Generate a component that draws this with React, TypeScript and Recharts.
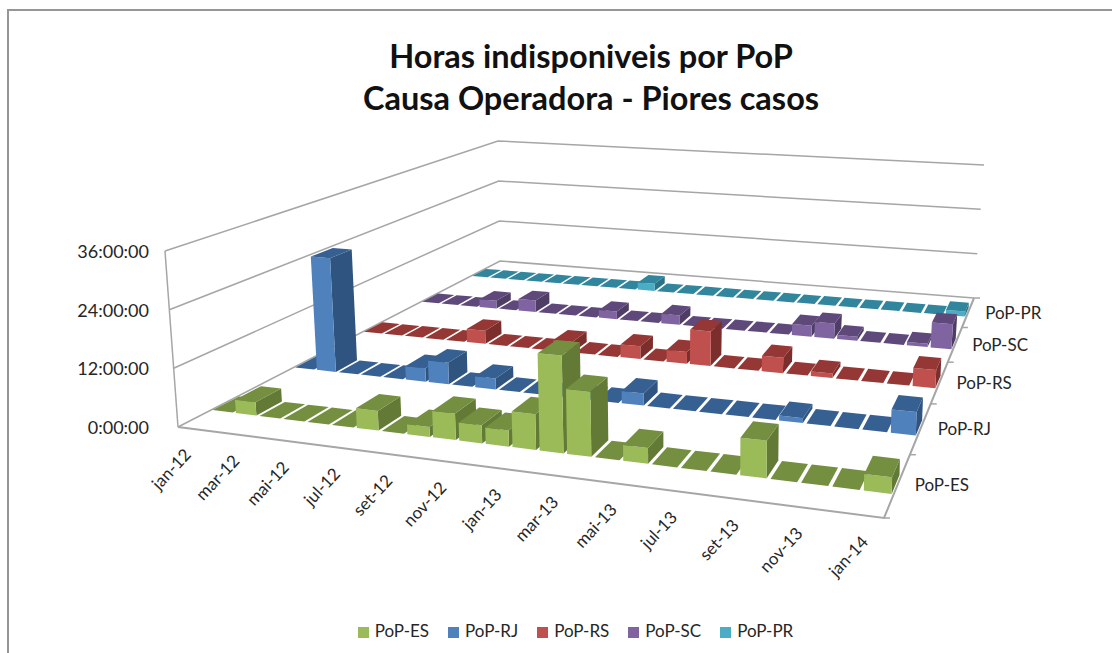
import React from 'react';
import { BarChart, Bar, XAxis, YAxis, Legend } from 'recharts';

const months = [
  'jan-12', 'fev-12', 'mar-12', 'abr-12', 'mai-12', 'jun-12', 'jul-12', 'ago-12', 'set-12', 'out-12', 'nov-12', 'dez-12',
  'jan-13', 'fev-13', 'mar-13', 'abr-13', 'mai-13', 'jun-13', 'jul-13', 'ago-13', 'set-13', 'out-13', 'nov-13', 'dez-13',
  'jan-14',
];

// hours per month
const popES = [0, 2.8, 0, 0, 0, 0, 4, 0, 2, 5.3, 3.6, 3.2, 7, 19, 12.6, 0, 3, 0, 0, 0, 7, 0, 0, 0, 3];
const popRJ = [0, 26, 0, 0, 0, 3, 4.8, 0, 2.4, 0, 0, 0, 0, 0, 2.6, 0, 0, 0, 0, 0, 1, 0, 0, 0, 4.7];
const popRS = [0, 0, 0, 0, 0, 3.2, 0, 0, 0, 2.5, 0, 0, 3, 0, 2.7, 8, 0, 0, 3.5, 0, 1, 0, 0, 0, 4];
const popSC = [0, 0, 0, 2, 0, 3, 0, 0, 0, 2, 0, 0, 2.4, 0, 0, 0, 0, 0, 2.7, 3.7, 1, 0, 0, 0.8, 6];
const popPR = [0, 0, 0, 0, 0, 0, 0, 0, 0, 2, 0, 0, 0, 0, 0, 0, 0, 0, 0, 0, 0, 0, 0, 0, 1.3];

const seriesNames = ['PoP-ES', 'PoP-RJ', 'PoP-RS', 'PoP-SC', 'PoP-PR'];
const yTicks = [0, 12, 24, 36];
const Y_MAX = 36;

const palette = [
  { front: '#9bbb59', top: '#748f3f', side: '#627a35' },
  { front: '#4f81bd', top: '#376092', side: '#2f5480' },
  { front: '#c0504d', top: '#953735', side: '#7c2e2c' },
  { front: '#8064a2', top: '#5f497a', side: '#4f3d66' },
  { front: '#4bacc6', top: '#31859c', side: '#2a7286' },
];

const data = months.map((month, i) => ({
  month,
  es: popES[i],
  rj: popRJ[i],
  rs: popRS[i],
  sc: popSC[i],
  pr: popPR[i],
}));

// floor corners on screen
const FL = [178, 427];
const FR = [884, 518];
const BR = [974, 298];
const BL = [500, 261];

const dx1 = FR[0] - BR[0];
const dy1 = FR[1] - BR[1];
const dx2 = BL[0] - BR[0];
const dy2 = BL[1] - BR[1];
const sx = FL[0] - FR[0] + BR[0] - BL[0];
const sy = FL[1] - FR[1] + BR[1] - BL[1];
const det = dx1 * dy2 - dy1 * dx2;
const g = (sx * dy2 - sy * dx2) / det;
const h = (dx1 * sy - dy1 * sx) / det;

function floorPoint(u: number, v: number) {
  const w = 1 + g * u + h * v;
  return [
    ((FR[0] - FL[0] + g * FR[0]) * u + (BL[0] - FL[0] + h * BL[0]) * v + FL[0]) / w,
    ((FR[1] - FL[1] + g * FR[1]) * u + (BL[1] - FL[1] + h * BL[1]) * v + FL[1]) / w,
  ];
}

// wall height on screen is linear in the floor position
function plane(a: number, b: number, c: number) {
  const d = (FL[0] - BR[0]) * (BL[1] - BR[1]) - (BL[0] - BR[0]) * (FL[1] - BR[1]);
  const ka = ((a - c) * (BL[1] - BR[1]) - (b - c) * (FL[1] - BR[1])) / d;
  const kb = ((FL[0] - BR[0]) * (b - c) - (BL[0] - BR[0]) * (a - c)) / d;
  return (x: number, y: number) => ka * (x - BR[0]) + kb * (y - BR[1]) + c;
}
const offX = plane(-13, -2, 10);
const offY = plane(-176, -120, -133);

function project(u: number, v: number, frac: number) {
  const [x, y] = floorPoint(u, v);
  return [x + frac * offX(x, y), y + frac * offY(x, y)];
}

const poly = (pts: number[][]) => pts.map((p) => p.map((n) => n.toFixed(1)).join(',')).join(' ');
const line = (pts: number[][]) => 'M' + pts.map((p) => p.map((n) => n.toFixed(1)).join(',')).join('L');

const BAR_W = 0.87;
const BAR_D = 0.3;
const textColor = '#262626';
const fontFamily = 'Lato, sans-serif';

function Bar3D(props: any) {
  const { index, row, height, background } = props;
  const frac = background && background.height ? Math.max(height, 0) / background.height : 0;
  const n = months.length;
  const u0 = (index + 0.5 - BAR_W / 2) / n;
  const u1 = (index + 0.5 + BAR_W / 2) / n;
  const v0 = (row + 0.5 - BAR_D / 2) / seriesNames.length;
  const v1 = (row + 0.5 + BAR_D / 2) / seriesNames.length;
  const c = palette[row];
  const a = project(u0, v0, 0);
  const b = project(u1, v0, 0);
  const d = project(u1, v1, 0);
  const at = project(u0, v0, frac);
  const bt = project(u1, v0, frac);
  const dt = project(u1, v1, frac);
  const et = project(u0, v1, frac);
  return (
    <g>
      <polygon points={poly([b, d, dt, bt])} fill={c.side} />
      <polygon points={poly([a, b, bt, at])} fill={c.front} />
      <polygon points={poly([at, bt, dt, et])} fill={c.top} />
    </g>
  );
}

function Frame() {
  const stroke = '#a6a6a6';
  return (
    <g>
      <path d="M8,653L8,10L1112,10" fill="none" stroke="#969696" strokeWidth={2} />
      <text x={591} y={68} textAnchor="middle" fontFamily={fontFamily} fontWeight={700} fontSize={32.5} fill="#111">
        Horas indisponiveis por PoP
      </text>
      <text x={591} y={110} textAnchor="middle" fontFamily={fontFamily} fontWeight={700} fontSize={32.5} fill="#111">
        Causa Operadora - Piores casos
      </text>
      {yTicks.map((t) => (
        <path
          key={t}
          d={line([project(0, 0, t / Y_MAX), project(0, 1, t / Y_MAX), project(1, 1, t / Y_MAX)])}
          fill="none"
          stroke={stroke}
          strokeWidth={1.5}
        />
      ))}
      <path d={line([project(0, 0, 0), project(0, 0, 1)])} fill="none" stroke={stroke} strokeWidth={1.5} />
      <path d={line([project(0, 0, 0), project(1, 0, 0), project(1, 1, 0)])} fill="none" stroke={stroke} strokeWidth={2} />
      {seriesNames.map((name, s) => {
        const tick = project(1, s / seriesNames.length, 0);
        const mid = project(1, (s + 0.5) / seriesNames.length, 0);
        return (
          <g key={name}>
            <path d={line([tick, [tick[0] + 6, tick[1]]])} stroke={stroke} strokeWidth={1.5} />
            <text x={mid[0] + 17} y={mid[1] + 7} fontFamily={fontFamily} fontSize={17} fill={textColor}>
              {name}
            </text>
          </g>
        );
      })}
      <path d={line([project(1, 1, 0), [project(1, 1, 0)[0] + 6, project(1, 1, 0)[1]]])} stroke={stroke} strokeWidth={1.5} />
    </g>
  );
}

function MonthTick(props: any) {
  const i = months.indexOf(props.payload.value);
  const [x, y] = project((i + 0.5) / months.length, 0, 0);
  return (
    <text
      x={x + 2}
      y={y + 27}
      textAnchor="end"
      transform={`rotate(-47 ${x + 2} ${y + 27})`}
      fontFamily={fontFamily}
      fontSize={17}
      fill={textColor}
    >
      {props.payload.value}
    </text>
  );
}

function HourTick(props: any) {
  const [, y] = project(0, 0, props.payload.value / Y_MAX);
  return (
    <text x={149} y={y + 7} textAnchor="end" fontFamily={fontFamily} fontSize={18} fill={textColor}>
      {`${props.payload.value}:00:00`}
    </text>
  );
}

const legendOrder = (item: any) => seriesNames.indexOf(item.value);

export default function App() {
  return (
    <div style={{ position: 'absolute', left: 0, top: 0, background: '#fff' }}>
      <BarChart width={1112} height={653} data={data} margin={{ top: 20, right: 20, bottom: 20, left: 20 }} barCategoryGap={0} barGap={0}>
        <Frame />
        <XAxis dataKey="month" height={1} interval={1} axisLine={false} tickLine={false} tick={<MonthTick />} />
        <YAxis width={1} domain={[0, Y_MAX]} ticks={yTicks} axisLine={false} tickLine={false} tick={<HourTick />} />
        <Legend
          iconType="square"
          iconSize={11}
          itemSorter={legendOrder}
          wrapperStyle={{ position: 'absolute', left: 325, top: 620, width: 520, textAlign: 'left', fontFamily, fontSize: 17 }}
          formatter={(value: string) => <span style={{ color: textColor, marginLeft: 2, marginRight: 9 }}>{value}</span>}
        />
        <Bar dataKey="pr" name="PoP-PR" fill={palette[4].front} isAnimationActive={false} shape={(p: any) => <Bar3D {...p} row={4} />} />
        <Bar dataKey="sc" name="PoP-SC" fill={palette[3].front} isAnimationActive={false} shape={(p: any) => <Bar3D {...p} row={3} />} />
        <Bar dataKey="rs" name="PoP-RS" fill={palette[2].front} isAnimationActive={false} shape={(p: any) => <Bar3D {...p} row={2} />} />
        <Bar dataKey="rj" name="PoP-RJ" fill={palette[1].front} isAnimationActive={false} shape={(p: any) => <Bar3D {...p} row={1} />} />
        <Bar dataKey="es" name="PoP-ES" fill={palette[0].front} isAnimationActive={false} shape={(p: any) => <Bar3D {...p} row={0} />} />
      </BarChart>
    </div>
  );
}
